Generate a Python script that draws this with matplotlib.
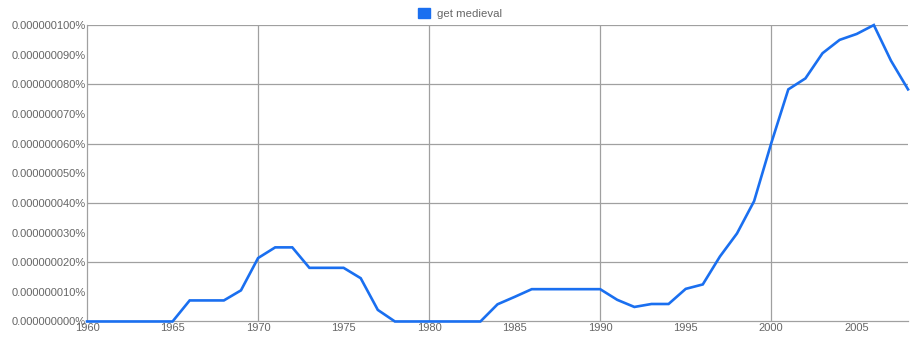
import matplotlib
matplotlib.use("Agg")
import matplotlib.pyplot as plt
from matplotlib.ticker import MultipleLocator, FuncFormatter

# yearly frequency of "get medieval", in units of 1e-9 %
years = list(range(1960, 2009))
freq = [0, 0, 0, 0, 0, 0, 7.1, 7.1, 7.1, 10.5,
        21.4, 25.0, 25.0, 18.1, 18.1, 18.1, 14.6, 3.9, 0, 0,
        0, 0, 0, 0, 5.8, 8.3, 10.9, 10.9, 10.9, 10.9,
        10.9, 7.3, 4.9, 5.9, 5.9, 11.0, 12.5, 21.9, 29.7, 40.6,
        60.1, 78.3, 82.0, 90.5, 95.0, 97.0, 100.0, 88.0, 78.3]
series_name = "get medieval"

grey = "#666666"
gridc = "#a0a0a0"
plt.rcParams["font.family"] = ["Liberation Sans", "DejaVu Sans"]

fig = plt.figure(figsize=(9.2, 3.48), dpi=100)
ax = fig.add_axes([0.0946, 0.0762, 0.8924, 0.8518])

ax.plot(years, freq, color="#1a6ff0", lw=1.9, solid_joinstyle="miter",
        label=series_name, clip_on=False, zorder=3)

ax.set_xlim(1960, 2008)
ax.set_ylim(0, 100)

ax.xaxis.set_major_locator(MultipleLocator(5))
ax.yaxis.set_major_locator(MultipleLocator(10))
ax.yaxis.set_major_formatter(FuncFormatter(lambda v, p: "%.9f%%" % (v * 1e-9)))

# grid only every 10 years and every second y tick
for yr in range(1970, 2008, 10):
    ax.axvline(yr, color=gridc, lw=0.9, zorder=1)
for v in range(20, 101, 20):
    ax.axhline(v, color=gridc, lw=0.9, zorder=1)

for s in ["top", "right"]:
    ax.spines[s].set_visible(False)
for s in ["left", "bottom"]:
    ax.spines[s].set_color(gridc)
    ax.spines[s].set_linewidth(0.9)

ax.tick_params(axis="both", length=0, labelsize=8, labelcolor=grey)
ax.tick_params(axis="x", pad=1)
ax.tick_params(axis="y", pad=1)

leg = fig.legend(handles=[plt.Rectangle((0, 0), 1, 1, color="#1a6ff0")],
                 labels=[series_name], loc="center", bbox_to_anchor=(0.5, 0.962),
                 frameon=False, fontsize=8.2, handlelength=1.0, handleheight=1.0,
                 handletextpad=0.6)
for t in leg.get_texts():
    t.set_color(grey)

fig.savefig("out.png", dpi=100)
